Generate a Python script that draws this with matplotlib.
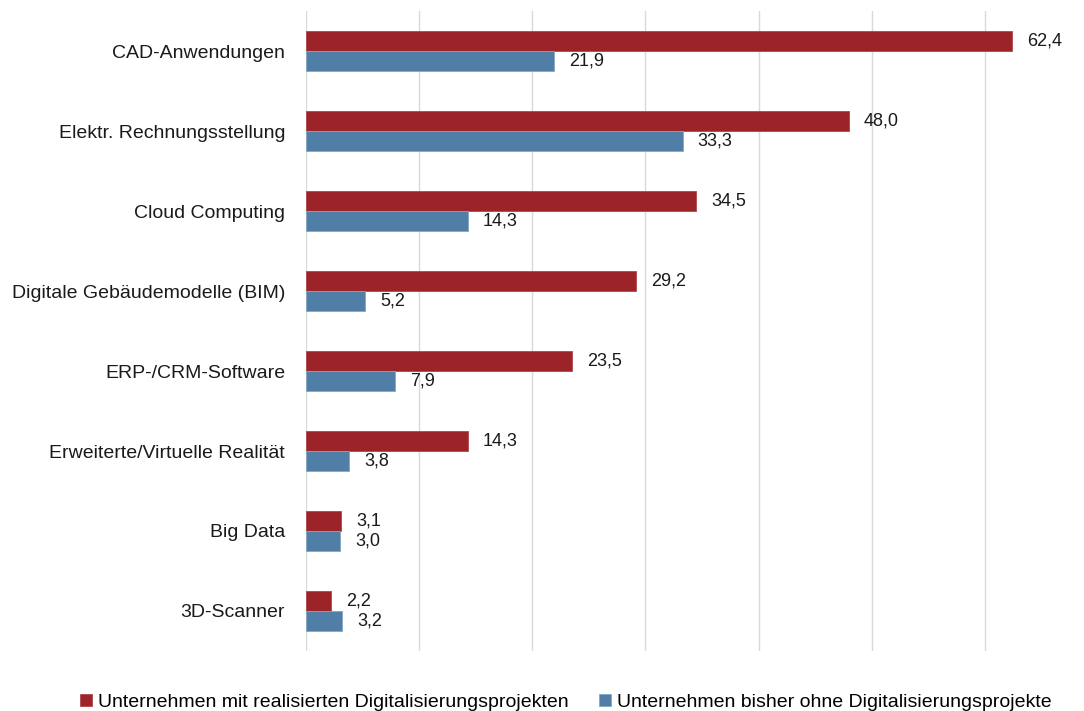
import matplotlib.pyplot as plt
from matplotlib import font_manager

categories = [
    "CAD-Anwendungen",
    "Elektr. Rechnungsstellung",
    "Cloud Computing",
    "Digitale Gebäudemodelle (BIM)",
    "ERP-/CRM-Software",
    "Erweiterte/Virtuelle Realität",
    "Big Data",
    "3D-Scanner",
]
with_projects = [62.4, 48.0, 34.5, 29.2, 23.5, 14.3, 3.1, 2.2]
without_projects = [21.9, 33.3, 14.3, 5.2, 7.9, 3.8, 3.0, 3.2]
series_names = [
    "Unternehmen mit realisierten Digitalisierungsprojekten",
    "Unternehmen bisher ohne Digitalisierungsprojekte",
]

names = {f.name for f in font_manager.fontManager.ttflist}
font = "Liberation Sans Narrow" if "Liberation Sans Narrow" in names else "Liberation Sans"
plt.rcParams['font.family'] = [font, 'DejaVu Sans']

red = '#9c2428'
blue = '#517ea7'

fig = plt.figure(figsize=(10.84, 7.11), dpi=100)
ax = fig.add_axes([0.2823, 0.0844, 0.6992, 0.9001])

h = 0.25
pos = list(range(len(categories)))
b1 = ax.barh([p - h / 2 for p in pos], with_projects, height=h, color=red,
             edgecolor='#b0454a', linewidth=0.6, label=series_names[0], zorder=3)
b2 = ax.barh([p + h / 2 for p in pos], without_projects, height=h, color=blue,
             edgecolor='#86a7c9', linewidth=0.6, label=series_names[1], zorder=3)

# value labels with decimal comma
for bars, vals in ((b1, with_projects), (b2, without_projects)):
    for bar, v in zip(bars, vals):
        ax.annotate(f"{v:.1f}".replace('.', ','),
                    (bar.get_width(), bar.get_y() + bar.get_height() / 2),
                    xytext=(15, 0), textcoords='offset pixels',
                    va='center', ha='left', fontsize=13, color='#1a1a1a')

ax.set_yticks(pos)
ax.set_yticklabels(categories, fontsize=14, color='#1a1a1a')
ax.set_ylim(len(categories) - 0.5, -0.5)
ax.set_xlim(0, 67)
ax.set_xticks(range(0, 70, 10))
ax.set_xticklabels([])
ax.tick_params(length=0, pad=15)
ax.grid(axis='x', color='#d9d9d9', linewidth=1, zorder=0)
for s in ax.spines.values():
    s.set_visible(False)

fig.legend(handles=[b1, b2], labels=series_names, loc='lower center',
           bbox_to_anchor=(0.522, -0.024), ncol=2, frameon=False, fontsize=14,
           handlelength=0.6, handleheight=0.6, handletextpad=0.3, columnspacing=1.6)

fig.savefig('out.png', dpi=100)
